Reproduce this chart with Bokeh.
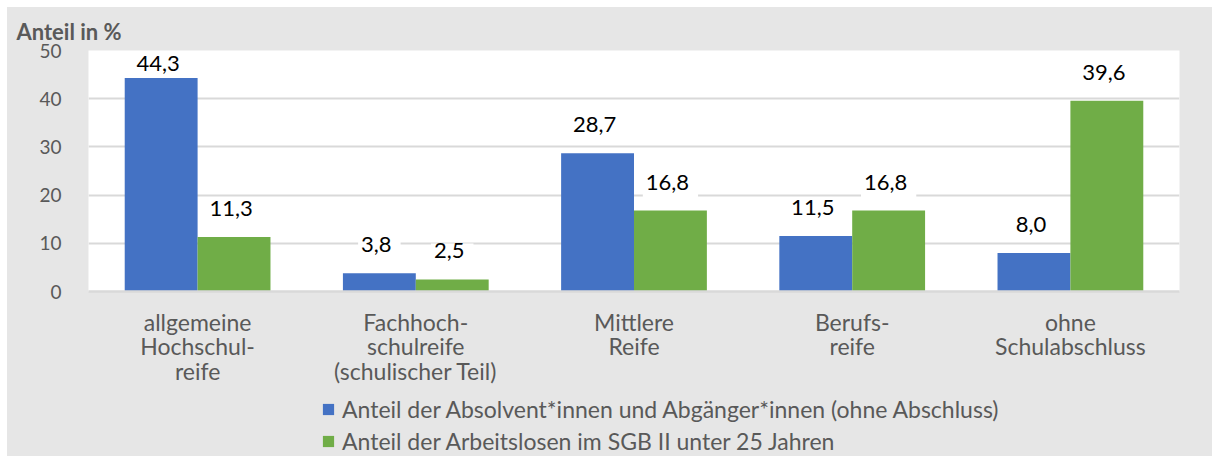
from bokeh.plotting import figure
from bokeh.layouts import column
from bokeh.models import ColumnDataSource, FactorRange, Legend, LegendItem, Title, FixedTicker, Range1d
from bokeh.transform import dodge
from bokeh.core.properties import value
from bokeh.embed import file_html
from bokeh.resources import INLINE
import numpy as np

categories = ["allgemeine\nHochschul-\nreife",
              "Fachhoch-\nschulreife\n(schulischer Teil)",
              "Mittlere\nReife",
              "Berufs-\nreife",
              "ohne\nSchulabschluss"]
absolventen = [44.3, 3.8, 28.7, 11.5, 8.0]
arbeitslose = [11.3, 2.5, 16.8, 16.8, 39.6]
series_names = ["Anteil der Absolvent*innen und Abgänger*innen (ohne Abschluss)",
                "Anteil der Arbeitslosen im SGB II unter 25 Jahren"]
y_ticks = [0, 10, 20, 30, 40, 50]
y_title = "Anteil in %"

FONT = "Lato"
GREY = "#595959"
BG = "#e6e6e6"
BLUE = "#4472C4"
GREEN = "#70AD47"

def fmt(v):
    return f"{v:.1f}".replace(".", ",")

ymax = 50
px_per_unit = 241 / ymax
lab_off = 24 / px_per_unit
lab_max = ymax - 17 / px_per_unit

src = ColumnDataSource(dict(
    cat=categories,
    a=absolventen,
    b=arbeitslose,
    a_lab=[fmt(v) for v in absolventen],
    b_lab=[fmt(v) for v in arbeitslose],
    a_y=list(np.minimum(np.array(absolventen) + lab_off, lab_max)),
    b_y=list(np.minimum(np.array(arbeitslose) + lab_off, lab_max)),
))

p = figure(width=1205, height=387, x_range=FactorRange(factors=categories, range_padding=0),
           y_range=(0, ymax), output_backend="svg", toolbar_location=None,
           min_border_left=81, min_border_right=33, min_border_top=43, min_border_bottom=103)
p.background_fill_color = "white"
p.border_fill_color = None
p.outline_line_color = None

bw = 0.334

# value labels first (white boxes hide the gridlines), bars drawn over them
for ycol, lab, off in (("a_y", "a_lab", -bw / 2), ("b_y", "b_lab", bw / 2)):
    p.text(x=dodge("cat", off, range=p.x_range), y=ycol, text=lab, source=src,
           text_align="center", text_baseline="alphabetic",
           text_font=value(FONT), text_font_size="22px", text_color="black",
           background_fill_color="white", padding=(3, 9, 0, 9))

p.vbar(x=dodge("cat", -bw / 2, range=p.x_range), top="a", width=bw, source=src,
       fill_color=BLUE, line_color=None)
p.vbar(x=dodge("cat", bw / 2, range=p.x_range), top="b", width=bw, source=src,
       fill_color=GREEN, line_color=None)

# axes
p.yaxis.ticker = FixedTicker(ticks=y_ticks)
p.yaxis.axis_line_color = None
p.yaxis.major_tick_line_color = None
p.yaxis.minor_tick_line_color = None
p.yaxis.major_tick_in = 0
p.yaxis.major_tick_out = 0
p.yaxis.major_label_standoff = 27
p.yaxis.major_label_text_font = FONT
p.yaxis.major_label_text_font_size = "19px"
p.yaxis.major_label_text_color = GREY

p.xaxis.axis_line_color = "#d9d9d9"
p.xaxis.axis_line_width = 2.5
p.xaxis.major_tick_line_color = None
p.xaxis.minor_tick_line_color = None
p.xaxis.major_tick_in = 0
p.xaxis.major_tick_out = 0
p.xaxis.major_label_standoff = 16
p.xaxis.major_label_text_font = FONT
p.xaxis.major_label_text_font_size = "23px"
p.xaxis.major_label_text_color = GREY
p.xaxis.major_label_text_line_height = 0.885

p.xgrid.grid_line_color = None
p.ygrid.grid_line_color = "#d9d9d9"
p.ygrid.grid_line_width = 1.8

p.title = Title(text=y_title, align="left", offset=-72, standoff=12,
                text_font=FONT, text_font_size="22px", text_font_style="bold",
                text_color=GREY, text_line_height=0.7)

# legend strip below the chart (its markers fall far outside its y range; only the legend shows)
leg = figure(width=1205, height=62, x_range=FactorRange(factors=categories, range_padding=0),
             y_range=Range1d(-2, -1), output_backend="svg", toolbar_location=None,
             x_axis_location=None, y_axis_location=None,
             min_border_left=81, min_border_right=33, min_border_top=0, min_border_bottom=0)
leg.background_fill_color = None
leg.border_fill_color = None
leg.outline_line_color = None
leg.grid.visible = False
la = leg.scatter(x="cat", y="a", marker="square", size=11, source=src,
                 fill_color=BLUE, line_color=None)
lb = leg.scatter(x="cat", y="b", marker="square", size=11, source=src,
                 fill_color=GREEN, line_color=None)

legend = Legend(items=[LegendItem(label=series_names[0], renderers=[la]),
                       LegendItem(label=series_names[1], renderers=[lb])],
                location=(226, 1), orientation="vertical",
                padding=0, margin=0, spacing=4, label_height=24,
                glyph_width=28, glyph_height=28, label_standoff=0,
                border_line_color=None, background_fill_alpha=0,
                label_text_font=FONT, label_text_font_size="23px",
                label_text_color=GREY)
leg.add_layout(legend)

layout = column(p, leg, spacing=0, margin=(7, 0, 0, 7),
                styles={"background-color": BG})
open("out.html", "w").write(file_html(layout, INLINE))
